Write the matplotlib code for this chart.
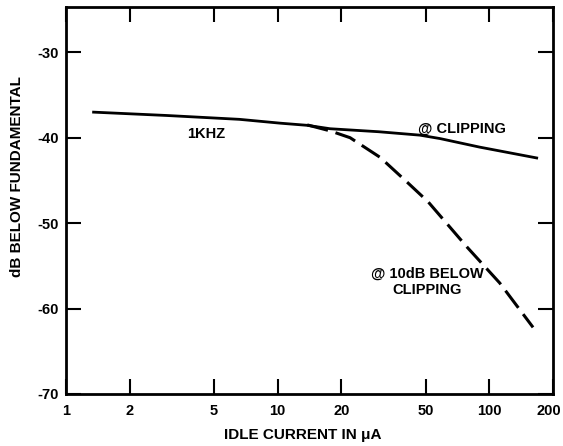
import matplotlib

matplotlib.use("Agg")

import matplotlib.pyplot as plt
from matplotlib.transforms import ScaledTranslation

# values
clip_current = [1.33, 3.0, 6.6, 10.3, 13.8, 17.7, 30.0, 47.0, 58.5, 90.0, 170.0]
clip_db = [-37.0, -37.4, -37.85, -38.3, -38.55, -38.95, -39.3, -39.7, -40.1, -41.1, -42.4]

below_current = [13.8, 17.7, 22.0, 30.5, 40.9, 51.4, 78.5, 112.0, 161.0]
below_db = [-38.5, -39.2, -40.0, -42.3, -45.2, -47.5, -52.8, -57.0, -62.2]

x_ticks = [1, 2, 5, 10, 20, 50, 100, 200]
x_tick_labels = ["1", "2", "5", "10", "20", "50", "100", "200"]
y_ticks = [-30, -40, -50, -60, -70]

plt.rcParams.update(
    {
        "font.family": ["Liberation Sans", "DejaVu Sans"],
        "font.weight": "bold",
        "axes.labelweight": "bold",
        "axes.unicode_minus": False,
    }
)

fig = plt.figure(figsize=(5.63, 4.46), dpi=100)
ax = fig.add_axes([0.1172, 0.1166, 0.865, 0.8677])

ax.plot(clip_current, clip_db, color="black", lw=2.0, solid_capstyle="butt")
ax.plot(below_current, below_db, color="black", lw=2.2, dashes=(7, 2.6))

ax.set_xscale("log")
ax.set_xlim(1, 200)
ax.set_ylim(-70, -24.7)
ax.set_xticks(x_ticks)
ax.set_xticklabels(x_tick_labels)
ax.minorticks_off()
ax.set_yticks(y_ticks)
ax.tick_params(direction="in", length=11, width=1.5, top=True, right=True, labelsize=10.5, colors="black")
ax.tick_params(axis="x", pad=7)
ax.tick_params(axis="y", pad=5)
for s in ax.spines.values():
    s.set_linewidth(2.0)

# last x label sits against the right edge, nudge it in a little
last = ax.get_xticklabels()[-1]
last.set_transform(last.get_transform() + ScaledTranslation(-3 / 72, 0, fig.dpi_scale_trans))

ax.text(4.6, -39.6, "1KHZ", ha="center", va="center", fontsize=10.5)
ax.text(46, -38.9, "@ CLIPPING", ha="left", va="center", fontsize=10.5)
ax.text(50.8, -56.9, "@ 10dB BELOW\nCLIPPING", ha="center", va="center", fontsize=10.5, linespacing=1.25)

ax.set_xlabel("IDLE CURRENT IN μA", fontsize=11)
ax.set_ylabel("dB BELOW FUNDAMENTAL", fontsize=11)
ax.xaxis.set_label_coords(0.487, -0.088)
ax.xaxis.label.set_va("top")
ax.yaxis.set_label_coords(-0.086, 0.561)

fig.savefig("out.png", dpi=100)
